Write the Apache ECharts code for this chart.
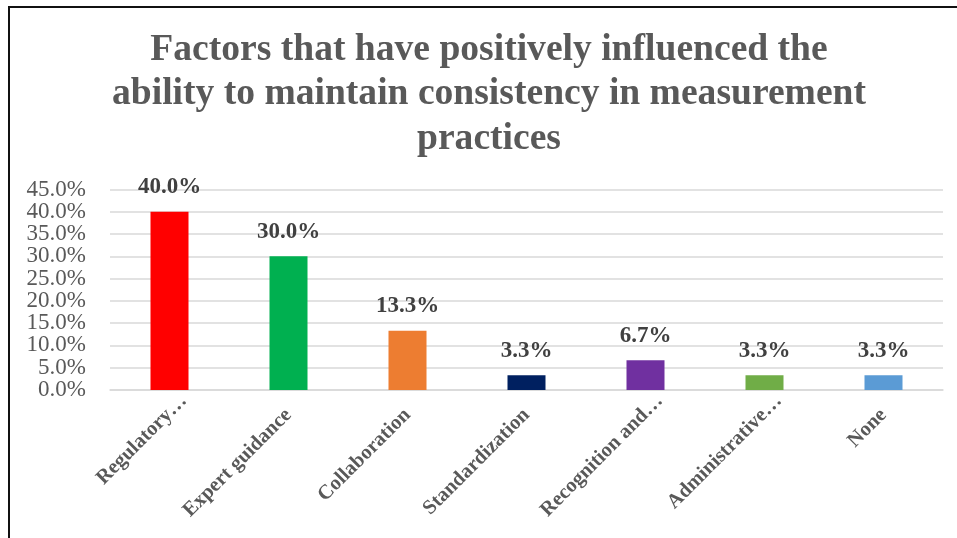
<!DOCTYPE html>
<html>
<head>
<meta charset="utf-8">
<script src="https://cdn.jsdelivr.net/npm/echarts@6/dist/echarts.min.js"></script>
<style>
  html, body { margin: 0; padding: 0; background: #fff; }
  #frame { position: absolute; left: 8px; top: 6px; width: 960px; height: 540px;
           border-left: 2px solid #111; border-top: 2px solid #111; }
  #chart { position: absolute; left: 0; top: 0; width: 957px; height: 538px; }
</style>
</head>
<body>
<div id="frame"></div>
<div id="chart"></div>
<script>
const categories = ['Regulatory\u2026', 'Expert guidance', 'Collaboration', 'Standardization',
                    'Recognition and\u2026', 'Administrative\u2026', 'None'];
const shares = [40.0, 30.0, 13.3, 3.3, 6.7, 3.3, 3.3];
const barColors = ['#FF0000', '#00B050', '#ED7D31', '#002060', '#7030A0', '#70AD47', '#5B9BD5'];
const yTicks = { min: 0, max: 45, step: 5 };

const serif = '"Liberation Serif", "Times New Roman", serif';

// truncated names sit a little further along their slant
const categoryItems = categories.map(name => name.endsWith('\u2026')
  ? { value: name, textStyle: { padding: [0, -20, 0, 0] } }
  : { value: name });

// tick labels are tall relative to the step, so alternate ticks are labelled
// by two coincident value axes to keep every label visible
const pct = v => v.toFixed(1) + '%';
const tickLabel = parity => ({
  margin: 24, fontFamily: serif, fontSize: 23, color: '#595959',
  showMinLabel: true, showMaxLabel: true,
  formatter: v => (Math.round(v / yTicks.step) % 2 === parity ? pct(v) : '')
});
const valueAxis = (parity, grid) => ({
  type: 'value', position: 'left', min: yTicks.min, max: yTicks.max, interval: yTicks.step,
  axisLine: { show: false }, axisTick: { show: false },
  splitLine: { show: grid, lineStyle: { color: '#D9D9D9', width: 1.5 } },
  axisLabel: tickLabel(parity)
});

const chart = echarts.init(document.getElementById('chart'));
chart.setOption({
  animation: false,
  title: {
    text: 'Factors that have positively influenced the\nability to maintain consistency in measurement\npractices',
    left: 484, top: 23, textAlign: 'center',
    textStyle: { fontFamily: serif, fontSize: 37.6, fontWeight: 'bold', color: '#595959', lineHeight: 44.5 }
  },
  grid: { left: 110, right: 14, top: 189.5, bottom: 148, containLabel: false },
  xAxis: {
    type: 'category', data: categoryItems,
    axisLine: { show: true, lineStyle: { color: '#D9D9D9', width: 1.5 } },
    axisTick: { show: false },
    axisLabel: { rotate: 45, interval: 0, margin: 22, fontFamily: serif, fontSize: 20.5,
                 fontWeight: 'bold', color: '#595959' }
  },
  yAxis: [valueAxis(0, true), valueAxis(1, false)],
  series: [{
    type: 'bar', yAxisIndex: 0,
    data: shares.map((v, i) => ({ value: v, itemStyle: { color: barColors[i] } })),
    barWidth: 38,
    label: { show: true, position: 'top', distance: 13, fontFamily: serif, fontSize: 23,
             fontWeight: 'bold', color: '#404040', formatter: p => pct(p.value) }
  }]
});
</script>
</body>
</html>
